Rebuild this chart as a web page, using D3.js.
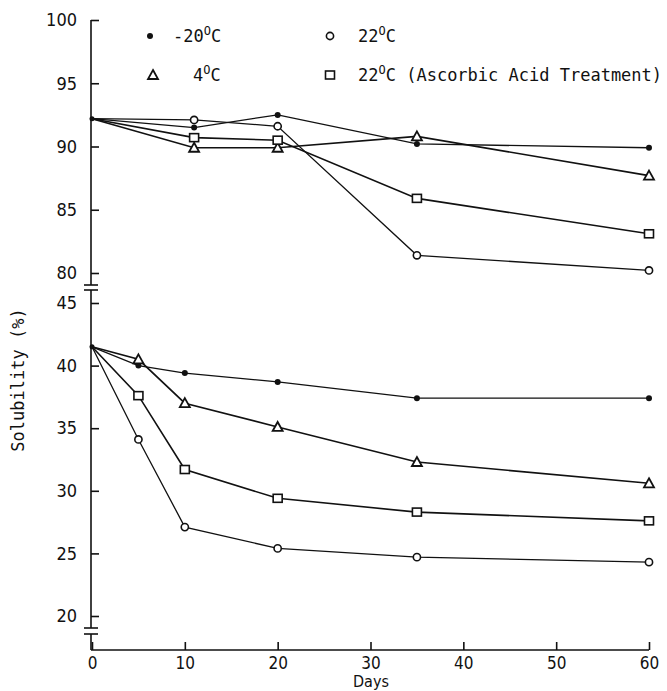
<!DOCTYPE html>
<html><head><meta charset="utf-8">
<script src="https://cdn.jsdelivr.net/npm/d3@7"></script>
<style>
body{margin:0;background:#fff;}
svg{display:block;}
.tick text{font-family:"DejaVu Sans Condensed","DejaVu Sans",sans-serif;font-stretch:condensed;font-size:18px;fill:#111;}
.lg{font-family:"DejaVu Sans Mono",monospace;font-size:17px;fill:#111;}
</style></head>
<body>
<svg id="c" width="667" height="691"></svg>
<script>
// ---- data ----
const seriesNames = ["-20", "22", "4", "22 (Ascorbic Acid Treatment)"];
const seriesKeys = ["m20", "c22", "c4", "aa22"];
const topDays = [0, 11, 20, 35, 60];
const topM20 = [92.2, 91.5, 92.5, 90.2, 89.9];
const topC22 = [92.2, 92.1, 91.6, 81.4, 80.2];
const topC4  = [92.2, 89.9, 89.9, 90.8, 87.7];
const topAA22 = [92.2, 90.7, 90.5, 85.9, 83.1];
const botDays = [0, 5, 10, 20, 35, 60];
const botM20 = [41.5, 40.0, 39.4, 38.7, 37.4, 37.4];
const botC22 = [41.5, 34.1, 27.1, 25.4, 24.7, 24.3];
const botC4  = [41.5, 40.5, 37.0, 35.1, 32.3, 30.6];
const botAA22 = [41.5, 37.6, 31.7, 29.4, 28.3, 27.6];
const xTicks = [0, 10, 20, 30, 40, 50, 60];
const topTicks = [80, 85, 90, 95, 100];
const botTicks = [20, 25, 30, 35, 40, 45];

const svg = d3.select("#c");
const x = d3.scaleLinear().domain([0, 60]).range([92, 649]);
const yTop = d3.scaleLinear().domain([80, 100]).range([273, 20]);
const yBot = d3.scaleLinear().domain([20, 45]).range([616, 303]);
const axisX = 91, axisY = 650;

// axes
const gTop = svg.append("g").attr("transform", `translate(${axisX},0)`)
  .call(d3.axisLeft(yTop).tickValues(topTicks).tickSizeInner(-8).tickSizeOuter(0).tickPadding(14));
const gBot = svg.append("g").attr("transform", `translate(${axisX},0)`)
  .call(d3.axisLeft(yBot).tickValues(botTicks).tickSizeInner(-8).tickSizeOuter(0).tickPadding(14));
const gX = svg.append("g").attr("transform", `translate(0,${axisY})`)
  .call(d3.axisBottom(x).tickValues(xTicks).tickSizeInner(-8).tickSizeOuter(0).tickPadding(6));
[gTop, gBot, gX].forEach(g => {
  g.select(".domain").remove();
  g.selectAll(".tick line").attr("stroke", "#111").attr("stroke-width", 1.6);
});
gX.selectAll(".tick text").attr("dy", "0.75em").style("font-size", "17px");

const ax = svg.append("g").attr("stroke", "#111").attr("stroke-width", 1.6).attr("fill", "none");
ax.append("line").attr("x1", axisX).attr("x2", axisX).attr("y1", yTop(100)).attr("y2", yTop(80) + 12);
ax.append("line").attr("x1", axisX - 7).attr("x2", axisX + 7).attr("y1", yTop(80) + 12).attr("y2", yTop(80) + 12);
ax.append("line").attr("x1", axisX - 7).attr("x2", axisX + 7).attr("y1", yTop(80) + 17).attr("y2", yTop(80) + 17);
ax.append("line").attr("x1", axisX).attr("x2", axisX).attr("y1", yTop(80) + 17).attr("y2", yBot(20) + 12);
ax.append("line").attr("x1", axisX - 7).attr("x2", axisX + 7).attr("y1", yBot(20) + 12).attr("y2", yBot(20) + 12);
ax.append("line").attr("x1", axisX - 7).attr("x2", axisX + 7).attr("y1", yBot(20) + 18).attr("y2", yBot(20) + 18);
ax.append("line").attr("x1", axisX).attr("x2", axisX).attr("y1", yBot(20) + 18).attr("y2", axisY);
ax.append("line").attr("x1", axisX).attr("x2", x(60)).attr("y1", axisY).attr("y2", axisY);

// markers
function marker(g, key, cx, cy) {
  if (key === "m20") {
    g.append("circle").attr("cx", cx).attr("cy", cy).attr("r", 3).attr("fill", "#111");
  } else if (key === "c22") {
    g.append("circle").attr("cx", cx).attr("cy", cy).attr("r", 3.6).attr("fill", "#fff").attr("stroke", "#111").attr("stroke-width", 1.6);
  } else if (key === "c4") {
    g.append("path").attr("d", `M${cx},${cy - 5}L${cx + 5},${cy + 4}L${cx - 5},${cy + 4}Z`)
      .attr("fill", "#fff").attr("stroke", "#111").attr("stroke-width", 1.8);
  } else {
    g.append("rect").attr("x", cx - 4.5).attr("y", cy - 4).attr("width", 9).attr("height", 8)
      .attr("fill", "#fff").attr("stroke", "#111").attr("stroke-width", 1.6);
  }
}

function panel(days, vals, key, y) {
  const pts = days.map((d, i) => [x(d), y(vals[i])]);
  svg.append("path").attr("d", d3.line()(pts)).attr("fill", "none")
    .attr("stroke", "#111").attr("stroke-width", key === "c4" || key === "aa22" ? 1.6 : 1.3);
  const g = svg.append("g");
  pts.slice(1).forEach(p => marker(g, key, p[0], p[1]));
}
const topVals = [topM20, topC22, topC4, topAA22];
const botVals = [botM20, botC22, botC4, botAA22];
seriesKeys.forEach((k, i) => panel(topDays, topVals[i], k, yTop));
seriesKeys.forEach((k, i) => panel(botDays, botVals[i], k, yBot));
svg.append("circle").attr("cx", x(0)).attr("cy", yTop(topM20[0])).attr("r", 2.5).attr("fill", "#111");
svg.append("circle").attr("cx", x(0)).attr("cy", yBot(botM20[0])).attr("r", 2.5).attr("fill", "#111");

// legend
const lgPos = [[150, 36, 173], [330, 36, 358], [153, 75, 193], [330, 75, 358]];
const lg = svg.append("g");
seriesKeys.forEach((k, i) => {
  const [mx, my, tx] = lgPos[i];
  marker(lg, k, mx, my);
  const t = lg.append("text").attr("class", "lg").attr("x", tx).attr("y", my + 6);
  const parts = seriesNames[i].split(" ");
  t.append("tspan").text(parts[0]);
  t.append("tspan").attr("font-size", "12px").attr("dy", -7).text("O");
  t.append("tspan").attr("dy", 7).text("C" + (parts.length > 1 ? " " + parts.slice(1).join(" ") : ""));
});

// axis titles
svg.append("text").attr("class", "lg").attr("transform", "translate(24,380) rotate(-90)")
  .attr("text-anchor", "middle").attr("font-size", "16px").text("Solubility (%)");
svg.append("text").attr("x", 371).attr("y", 687).attr("text-anchor", "middle")
  .attr("font-family", "DejaVu Sans Condensed, DejaVu Sans, sans-serif").attr("font-stretch", "condensed")
  .attr("font-size", "16px").attr("fill", "#111").text("Days");
</script>
</body></html>
